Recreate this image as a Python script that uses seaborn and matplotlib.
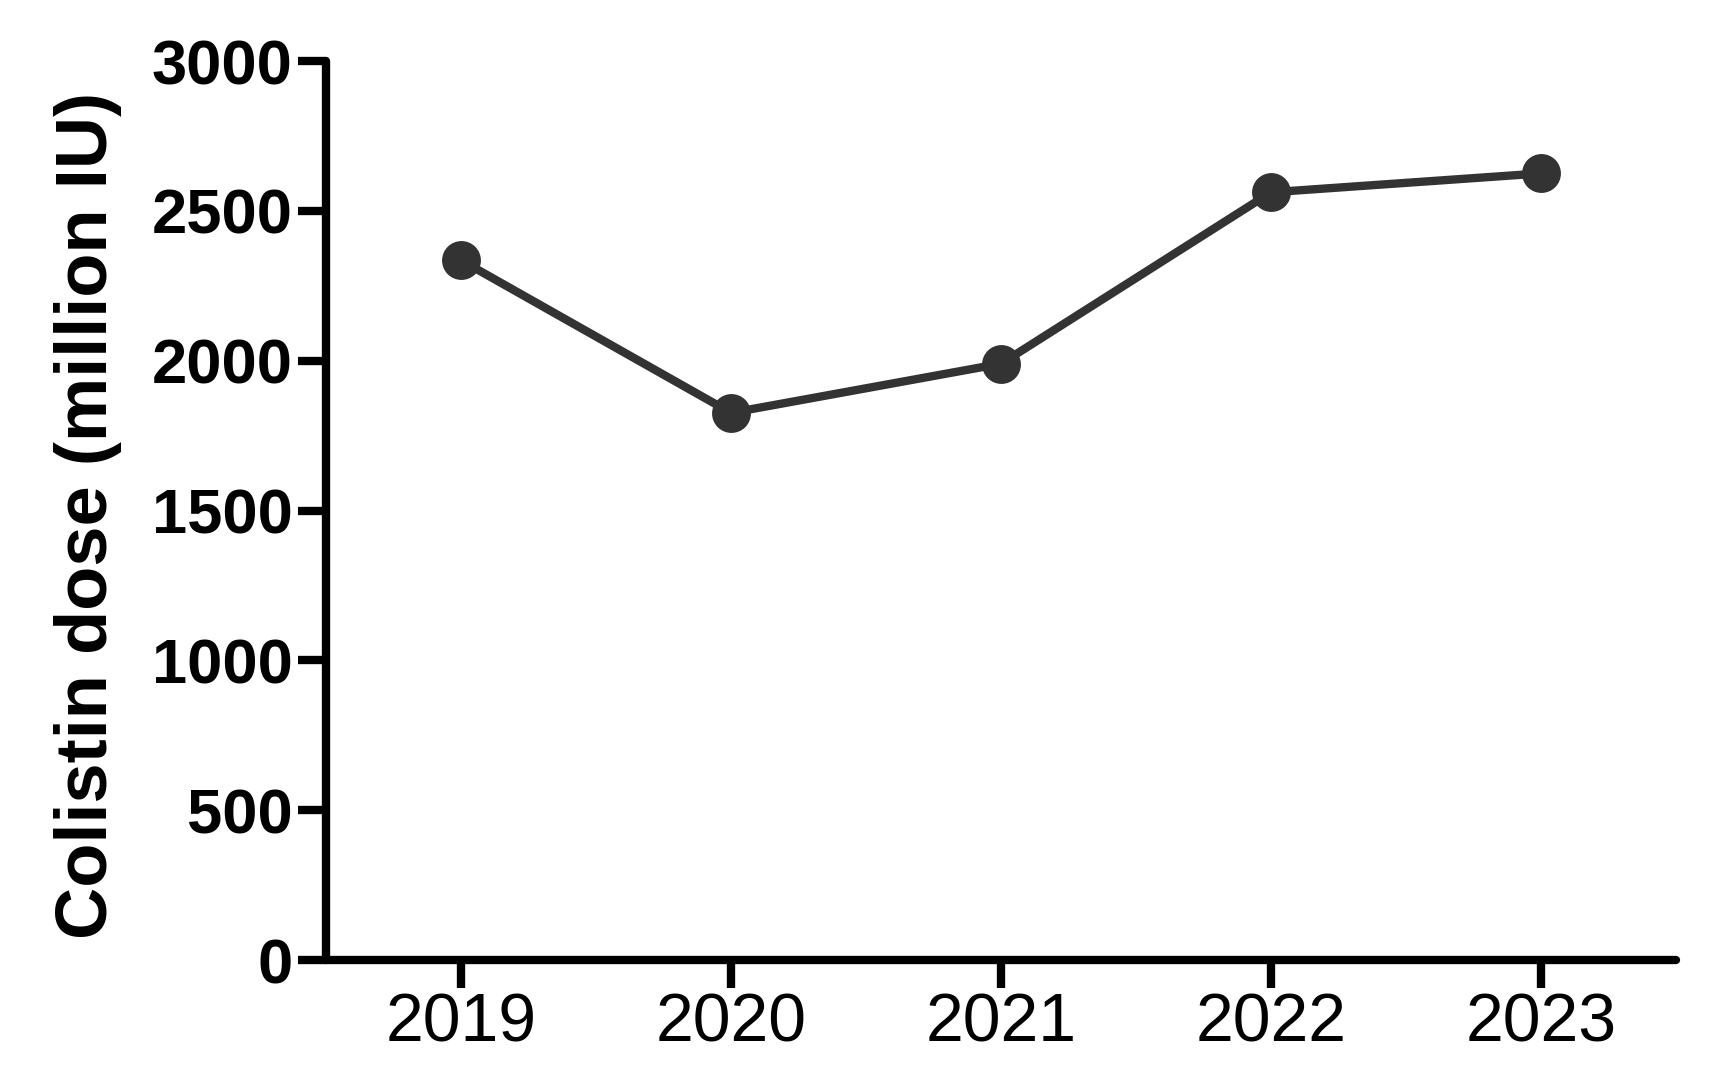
import matplotlib
matplotlib.use("Agg")
import matplotlib.pyplot as plt
import seaborn as sns
import pandas as pd

years = ["2019", "2020", "2021", "2022", "2023"]
doses = [2335, 1826, 1990, 2562, 2625]
yticks = [0, 500, 1000, 1500, 2000, 2500, 3000]

sns.set_style("white")
plt.rcParams["font.family"] = ["Liberation Sans", "DejaVu Sans"]
plt.rcParams["text.color"] = "black"
plt.rcParams["xtick.color"] = "black"
plt.rcParams["ytick.color"] = "black"
plt.rcParams["axes.labelcolor"] = "black"

df = pd.DataFrame({"year": years, "dose": doses})

fig = plt.figure(figsize=(17.19, 10.86), dpi=100)
ax = fig.add_axes([0.1897, 0.116, 0.7853, 0.8278])

sns.lineplot(data=df, x="year", y="dose", ax=ax, color="#333333",
             linewidth=6, marker="o", markersize=28, markeredgewidth=0,
             markerfacecolor="#333333", sort=False)

ax.set_xlim(-0.5, 4.5)
ax.set_ylim(0, 3000)
ax.set_yticks(yticks)
ax.set_yticklabels([str(v) for v in yticks], fontsize=45.5, fontweight="bold", color="black")
ax.set_xticks(range(len(years)))
ax.set_xticklabels(years, fontsize=49, color="black")
ax.set_xlabel("")
ax.set_ylabel("")

for side in ["top", "right"]:
    ax.spines[side].set_visible(False)
for side in ["left", "bottom"]:
    ax.spines[side].set_linewidth(6)
    ax.spines[side].set_color("black")
    ax.spines[side].set_capstyle("round")

ax.tick_params(axis="both", which="major", direction="out", length=20, width=6,
               color="black", bottom=True, left=True, labelcolor="black")
ax.tick_params(axis="y", pad=4)
ax.tick_params(axis="x", pad=3)
ax.grid(False)

fig.text(88 / 1719, 1 - 515 / 1086, "Colistin dose (million IU)", rotation=90,
         ha="center", va="center", fontsize=52, fontweight="bold", color="black")

fig.savefig("out.png", dpi=100, facecolor="white")
